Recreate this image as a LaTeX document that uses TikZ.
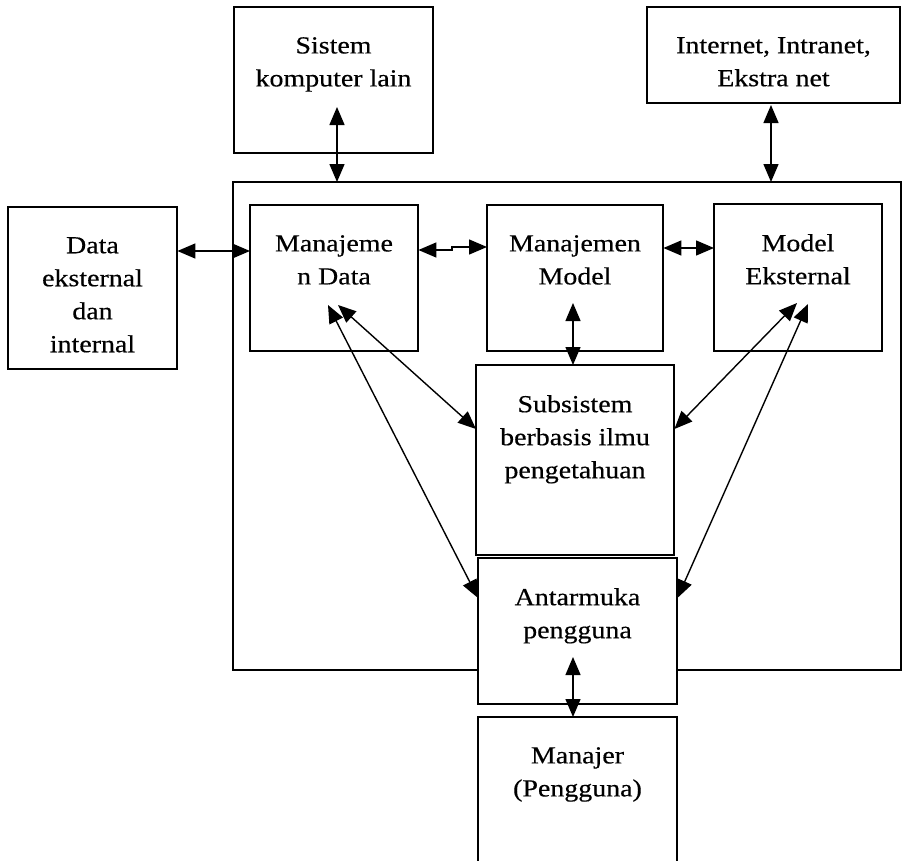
\documentclass[tikz,border=0pt]{standalone}
\usepackage{fontspec}
\setmainfont{Liberation Serif}[FakeStretch=1.14,FakeBold=0.4]
\usetikzlibrary{arrows.meta}
\begin{document}
\begin{tikzpicture}[x=1pt,y=-1pt,
  boxline/.style={draw=black,line width=1.5pt,fill=white},
  lbl/.style={anchor=north,inner sep=0pt,align=center,
    font=\fontsize{24.5}{33}\selectfont,execute at begin node=\strut},
  arr/.style={line width=1.4pt,
    {Triangle[length=18pt,width=15pt]}-{Triangle[length=18pt,width=15pt]}}]
\useasboundingbox (0,0) rectangle (902,860);
% container
\draw[boxline] (233,182) rectangle (901,670);
\node[inner sep=0pt,minimum width=668pt,minimum height=488pt,anchor=north west] (cont) at (233,182) {};
% helper macro for boxes
\newcommand{\mybox}[6]{%
  \draw[boxline] (#2,#3) rectangle (#4,#5);
  \node[inner sep=0pt,minimum width={#4-#2},minimum height={#5-#3},anchor=north west] (#1) at (#2,#3) {};
  \node[lbl] (#1-t) at ({(#2+#4)/2},{#3+30}) {#6};}
\mybox{sis}{234}{7}{433}{153}{Sistem\\komputer lain}
\mybox{inet}{647}{7}{900}{103}{Internet, Intranet,\\Ekstra net}
\mybox{data}{8}{207}{177}{369}{Data\\eksternal\\dan\\internal}
\mybox{mdata}{250}{205}{418}{351}{Manajeme\\n Data}
\mybox{mmodel}{487}{205}{663}{351}{Manajemen\\Model}
\mybox{mext}{714}{204}{882}{351}{Model\\Eksternal}
\mybox{sub}{476}{365}{674}{555}{Subsistem\\berbasis ilmu\\pengetahuan}
\mybox{ui}{478}{558}{677}{704}{Antarmuka\\pengguna}
\mybox{mgr}{478}{717}{677}{880}{Manajer\\(Pengguna)}
% free ends
\coordinate (s1) at (337,107);
\coordinate (i1) at (771,105);
\coordinate (d1) at (0,251);
\coordinate (k1) at (452,250);
\coordinate (k2) at (452,247);
\coordinate (m1) at (0,248);
\coordinate (mm1) at (573,303);
\coordinate (md1) at (338,305);
\coordinate (md2) at (328,305);
\coordinate (me1) at (797,303);
\coordinate (me2) at (808,304);
\coordinate (sl) at (0,429);
\coordinate (ul) at (0,598);
\coordinate (u1) at (573,657);
% connectors
\draw[arr] (s1) -- (s1 |- cont.north);
\draw[arr] (i1) -- (i1 |- cont.north);
\draw[arr] (data.east |- d1) -- (mdata.west |- d1);
\draw[arr] (mdata.east |- k1) -- (k1) -- (k2) -- (mmodel.west |- k2);
\draw[arr] (mmodel.east |- m1) -- (mext.west |- m1);
\draw[arr] (mm1) -- (mm1 |- sub.north);
\draw[arr] (md1) -- (sub.west |- sl);
\draw[arr] (md2) -- (ui.west |- ul);
\draw[arr] (me1) -- (sub.east |- sl);
\draw[arr] (me2) -- (ui.east |- ul);
\draw[arr] (u1) -- (u1 |- mgr.north);
\end{tikzpicture}
\end{document}
